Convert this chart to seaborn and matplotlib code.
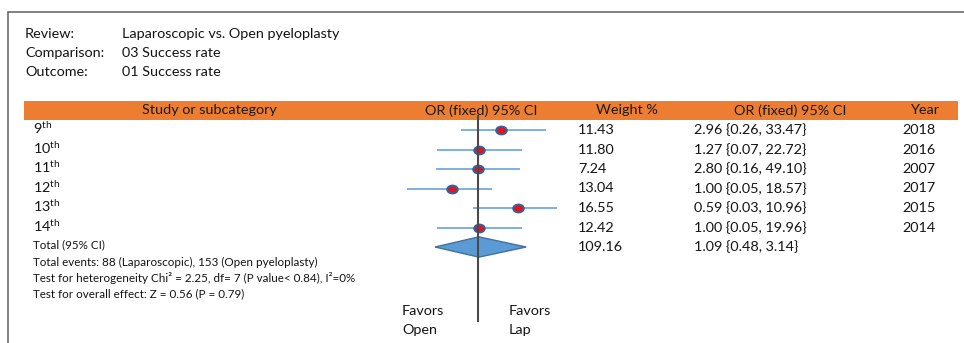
import numpy as np
import pandas as pd
import matplotlib
matplotlib.use("Agg")
import matplotlib.pyplot as plt
import seaborn as sns
from matplotlib.path import Path
from matplotlib.patches import Polygon, Rectangle
from matplotlib.transforms import Affine2D

# header block
review = "Laparoscopic vs. Open pyeloplasty"
comparison = "03 Success rate"
outcome = "01 Success rate"

columns = ["Study or subcategory", "OR (fixed) 95% CI", "Weight %", "OR (fixed) 95% CI", "Year"]

# studies
studies = ["9", "10", "11", "12", "13", "14"]
weights = ["11.43", "11.80", "7.24", "13.04", "16.55", "12.42"]
or_ci = ["2.96 {0.26, 33.47}", "1.27 {0.07, 22.72}", "2.80 {0.16, 49.10}",
         "1.00 {0.05, 18.57}", "0.59 {0.03, 10.96}", "1.00 {0.05, 19.96}"]
years = ["2018", "2016", "2007", "2017", "2015", "2014"]

# positions as drawn in the forest panel (0 = line of no effect)
point_pos = [0.53, 0.02, 0.00, -0.61, 0.94, 0.02]
ci_lo_pos = [-0.40, -0.95, -0.98, -1.65, -0.12, -0.95]
ci_hi_pos = [1.58, 1.02, 0.98, 0.32, 1.84, 1.02]

# pooled
total_weight = "109.16"
total_or = "1.09 {0.48, 3.14}"
total_pos = 0.02
total_lo = -1.00
total_hi = 1.12

footer = ["Total (95% CI)",
          "Total events: 88 (Laparoscopic), 153 (Open pyeloplasty)",
          "Test for heterogeneity Chi² = 2.25, df= 7 (P value< 0.84), I²=0%",
          "Test for overall effect: Z = 0.56 (P = 0.79)"]

W, H = 964, 343
ORANGE = "#ed7d31"
BLUE = "#5b9bd5"
INK = "#141414"


def row(px):
    # pixel height -> row units (row 0 = first study)
    return (px - 130) / 19.5


sns.set_style("white")
plt.rcParams["font.family"] = ["Lato", "DejaVu Sans"]
plt.rcParams["mathtext.fontset"] = "custom"
plt.rcParams["mathtext.rm"] = "Lato"

fig = plt.figure(figsize=(W / 100, H / 100), dpi=100)
ax = fig.add_axes([0, 0, 1, 1])
ax.set_xlim(0, W)
ax.axis("off")

fax = fig.add_axes([400 / W, 0, 165 / W, 1], sharey=ax)
fax.set_xlim(-78 / 43, 87 / 43)
fax.patch.set_visible(False)

# frame
ax.plot([8, W], [row(12), row(12)], color="#606060", lw=1.1)
ax.plot([8, 8], [row(12), row(H)], color="#606060", lw=1.1)

# title block
fs = 10.4
for lab, val, py in [("Review:", review, 34), ("Comparison:", comparison, 53),
                     ("Outcome:", outcome, 72)]:
    ax.text(25, row(py), lab, fontsize=fs, va="center", color=INK)
    ax.text(122, row(py), val, fontsize=fs, va="center", color=INK)

# header bar
ax.add_patch(Rectangle((24, row(120)), 934, row(101) - row(120), color=ORANGE, lw=0))
for txt, cx in zip(columns, [209, 481, 627, 790, 925]):
    ax.text(cx, row(110.5), txt, fontsize=fs, ha="center", va="center", color="#1a1a1a")

# table rows
for i, s in enumerate(studies):
    ax.text(33, i - 0.1, s + r"$^{\mathrm{th}}$", fontsize=fs, va="center", color=INK)
    ax.text(578, i, weights[i], fontsize=fs, va="center", color=INK)
    ax.text(694, i, or_ci[i], fontsize=fs, va="center", color=INK)
    ax.text(902, i, years[i], fontsize=fs, va="center", color=INK)
ax.text(578, 6, total_weight, fontsize=fs, va="center", color=INK)
ax.text(694, 6, total_or, fontsize=fs, va="center", color=INK)

for txt, py in zip(footer, [245, 262, 277.5, 293.5]):
    ax.text(33, row(py), txt, fontsize=8.4, va="center", color=INK)

# forest panel
rows = np.arange(len(studies))
fax.hlines(rows, ci_lo_pos, ci_hi_pos, color=BLUE, lw=1.1, zorder=2)
df = pd.DataFrame({"pos": point_pos, "row": rows})
ellipse = Path.unit_circle().transformed(Affine2D().scale(1.35, 1.0))
sns.scatterplot(data=df, x="pos", y="row", ax=fax, marker=ellipse, s=58,
                color="#e8101c", edgecolor="#2e64a0", linewidth=1.4,
                zorder=4, legend=False)
fax.add_patch(Polygon([(total_lo, 6), (total_pos, 6 - 0.52), (total_hi, 6), (total_pos, 6 + 0.52)],
                      closed=True, facecolor=BLUE, edgecolor="#41719c", lw=1, zorder=3))
fax.vlines(0, row(115), row(322), color="#4a4a4a", lw=1.5, zorder=5)
fax.axis("off")

ax.text(402, row(311), "Favors", fontsize=fs, va="center", color=INK)
ax.text(402, row(330), "Open", fontsize=fs, va="center", color=INK)
ax.text(509, row(311), "Favors", fontsize=fs, va="center", color=INK)
ax.text(509, row(330), "Lap", fontsize=fs, va="center", color=INK)

ax.set_ylim(row(H), row(0))

fig.savefig("out.png", dpi=100)
